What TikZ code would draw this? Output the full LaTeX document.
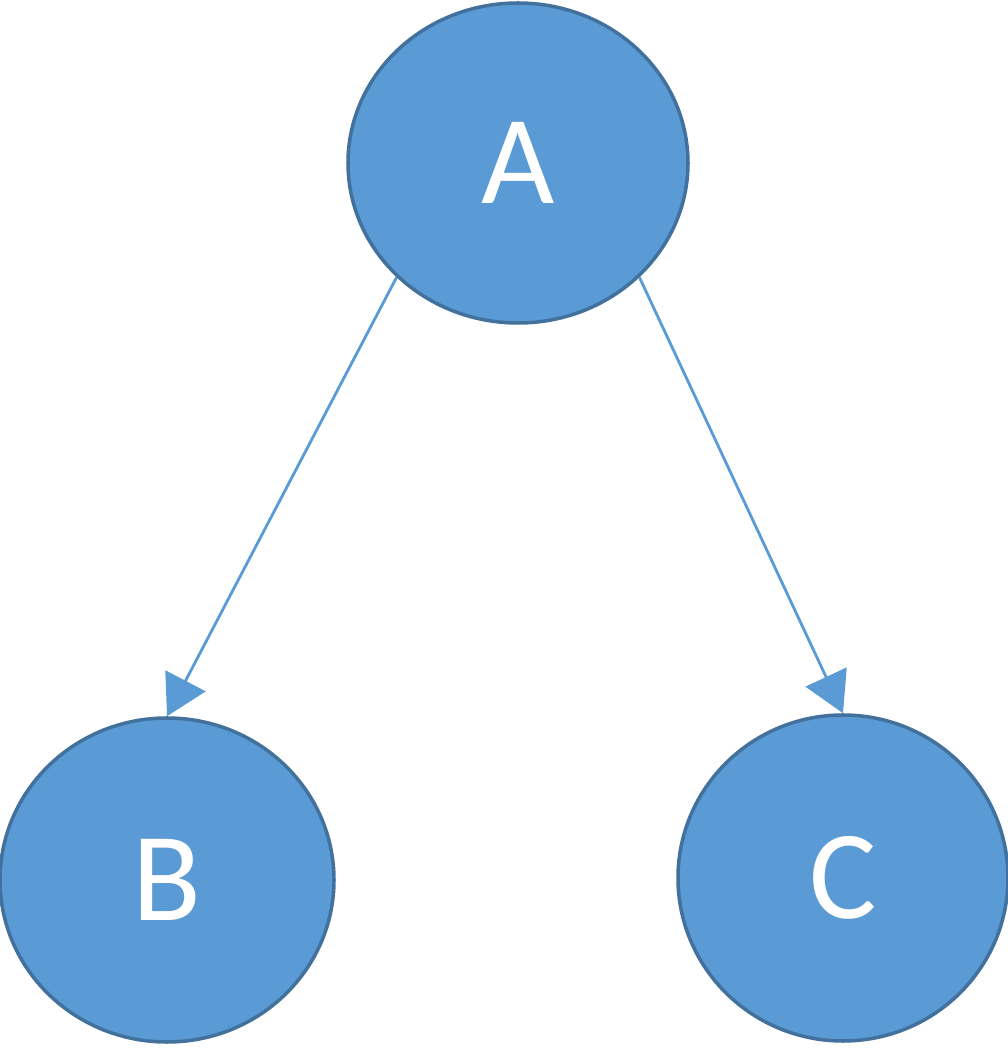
\documentclass[tikz,border=0pt]{standalone}
\usepackage{fontspec}
\setmainfont{Carlito}
\usetikzlibrary{shapes.geometric,arrows.meta}
\definecolor{nodeblue}{RGB}{91,155,213}
\definecolor{edgeblue}{RGB}{65,113,156}

\begin{document}
\begin{tikzpicture}[
    vertex/.style={ellipse,draw=edgeblue,line width=1pt,fill=nodeblue,
      inner sep=0pt,text=white,font=\fontsize{36}{40}\selectfont},
    link/.style={nodeblue,line width=0.8pt,
      -{Triangle[width=4.5mm,length=4mm]}}]
          \useasboundingbox (0,0) rectangle (10.08,10.56);
          \node[vertex,minimum width=3.4cm,minimum height=3.2cm] (A) at (5.18,8.93) {A};
          \node[vertex,minimum width=3.34cm,minimum height=3.24cm] (B) at (1.67,1.76) {B};
          \node[vertex,minimum width=3.3cm,minimum height=3.26cm] (C) at (8.43,1.78) {C};
          \draw[link] (A.south west) -- (B.north);
          \draw[link] (A.south east) -- (C.north);
        \end{tikzpicture}
\end{document}
